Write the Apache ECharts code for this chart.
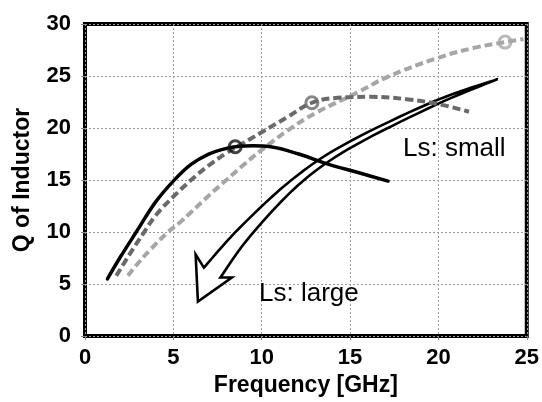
<!DOCTYPE html>
<html>
<head>
<meta charset="utf-8">
<script src="https://cdn.jsdelivr.net/npm/echarts@6/dist/echarts.min.js"></script>
<style>
  html, body { margin: 0; padding: 0; background: #fff; }
  #chart { width: 542px; height: 402px; }
</style>
</head>
<body>
<div id="chart"></div>
<script>
// Q factor vs. frequency for three inductor sizes, [GHz, Q]
const qSmallL = [
  [1.27, 5.5], [2, 7.6], [2.9, 10.0], [4, 12.9], [5, 14.9], [6, 16.5], [7, 17.5],
  [8, 18.05], [8.5, 18.2], [9.5, 18.3], [10.5, 18.2], [12.1, 17.5], [13.8, 16.5],
  [15.5, 15.7], [17.15, 14.9]
];
const qMidL = [
  [1.77, 5.8], [2.5, 7.8], [3.35, 10.0], [4, 11.6], [5, 13.4], [6, 15.0], [7, 16.4],
  [8, 17.6], [8.5, 18.1], [10, 19.6], [11.5, 21.1], [12.84, 22.43], [14.3, 22.9],
  [16.2, 23.0], [18.3, 22.75], [20, 22.3], [21.73, 21.57]
];
const qLargeL = [
  [2.43, 5.8], [3, 7.0], [3.75, 8.4], [4.7, 10.0], [5.35, 10.9], [6, 11.9], [7, 13.5],
  [8, 15.0], [9, 16.5], [10, 17.9], [11.5, 19.8], [13, 21.4], [15.4, 23.4],
  [17.1, 24.9], [19.9, 26.7], [22, 27.7], [23.77, 28.26], [24.81, 28.56]
];
// Peak-Q markers on each curve
const peakSmall = [[8.5, 18.2]];
const peakMid = [[12.84, 22.43]];
const peakLarge = [[23.77, 28.26]];

// Hollow trend arrow (small Ls -> large Ls), [GHz, Q]
// upper edge runs tail -> head, lower edge runs head -> tail
const arrowUpperEdge = [
  [23.36, 24.70], [19.76, 22.57], [14.77, 18.51], [11.72, 15.05], [8.73, 10.37], [6.73, 6.58]
];
const arrowHead = [[6.26, 7.86], [6.39, 3.31], [8.31, 5.63]];
const arrowLowerEdge = [
  [7.66, 5.63], [9.30, 9.51], [12.01, 14.42], [14.94, 18.01], [19.85, 22.23], [23.36, 24.70]
];

const xTicks = [0, 5, 10, 15, 20, 25];
const yTicks = [0, 5, 10, 15, 20, 25, 30];
const xTitle = 'Frequency [GHz]';
const yTitle = 'Q of Inductor';
const noteSmall = 'Ls: small';
const noteLarge = 'Ls: large';

const FONT = "'Liberation Sans', Arial, sans-serif";
const chart = echarts.init(document.getElementById('chart'), null, { renderer: 'canvas' });

const gridLine = { show: true, lineStyle: { color: '#9a9a9a', width: 1, type: [2, 2] } };
const tickLabel = { color: '#000', fontFamily: FONT, fontWeight: 'bold', fontSize: 22 };

function dashed(color) {
  return { color: color, width: 4, type: [8, 4], cap: 'butt' };
}
function peak(data, color) {
  return {
    type: 'scatter', data: data, symbol: 'circle', symbolSize: 12, z: 5,
    itemStyle: { color: 'rgba(0,0,0,0)', borderColor: color, borderWidth: 3 },
    silent: true
  };
}

// Catmull-Rom resampling of a pixel polyline so the arrow edges bend smoothly
function smoothEdge(pts, steps) {
  const out = [];
  const n = pts.length;
  for (let i = 0; i < n - 1; i++) {
    const p0 = pts[Math.max(i - 1, 0)], p1 = pts[i], p2 = pts[i + 1], p3 = pts[Math.min(i + 2, n - 1)];
    for (let s = 0; s < steps; s++) {
      const t = s / steps, t2 = t * t, t3 = t2 * t;
      const pt = [0, 1].map(function (k) {
        return 0.5 * ((2 * p1[k]) + (-p0[k] + p2[k]) * t +
          (2 * p0[k] - 5 * p1[k] + 4 * p2[k] - p3[k]) * t2 +
          (-p0[k] + 3 * p1[k] - 3 * p2[k] + p3[k]) * t3);
      });
      out.push(pt);
    }
  }
  out.push(pts[n - 1]);
  return out;
}

chart.setOption({
  animation: false,
  backgroundColor: '#fff',
  grid: {
    left: 85, top: 24, right: 11, bottom: 65,
    show: true, borderColor: '#000', borderWidth: 4, backgroundColor: '#fff'
  },
  xAxis: {
    type: 'value', min: xTicks[0], max: xTicks[xTicks.length - 1], interval: 5,
    axisLine: { show: false },
    axisTick: { show: true, length: 4, lineStyle: { color: '#888' } },
    axisLabel: Object.assign({ margin: 11 }, tickLabel),
    splitLine: gridLine,
    name: xTitle, nameLocation: 'middle', nameGap: 36,
    nameTextStyle: { color: '#000', fontFamily: FONT, fontWeight: 'bold', fontSize: 23 }
  },
  yAxis: {
    type: 'value', min: yTicks[0], max: yTicks[yTicks.length - 1], interval: 5,
    axisLine: { show: false },
    axisTick: { show: true, length: 4, lineStyle: { color: '#888' } },
    axisLabel: Object.assign({ margin: 14 }, tickLabel),
    splitLine: gridLine,
    name: yTitle, nameLocation: 'middle', nameGap: 51,
    nameTextStyle: { color: '#000', fontFamily: FONT, fontWeight: 'bold', fontSize: 23 }
  },
  series: [
    {
      type: 'custom', silent: true, z: 2,
      data: [arrowUpperEdge[0]],
      renderItem: function (params, api) {
        const toPx = function (p) { return api.coord(p); };
        const upper = smoothEdge(arrowUpperEdge.map(toPx), 10);
        const head = arrowHead.map(toPx);
        const lower = smoothEdge(arrowLowerEdge.map(toPx), 10);
        return {
          type: 'polygon',
          shape: { points: upper.concat(head, lower) },
          style: { fill: '#fff', stroke: '#000', lineWidth: 2.6, lineJoin: 'miter', miterLimit: 12 }
        };
      }
    },
    {
      type: 'line', data: qLargeL, smooth: 0.4, showSymbol: false, z: 3,
      lineStyle: dashed('#a6a6a6')
    },
    {
      type: 'line', data: qMidL, smooth: 0.4, showSymbol: false, z: 3,
      lineStyle: dashed('#696969')
    },
    {
      type: 'line', data: qSmallL, smooth: 0.4, showSymbol: false, z: 4,
      lineStyle: { color: '#000', width: 3.5, cap: 'round' }
    },
    peak(peakLarge, '#a6a6a6'),
    peak(peakMid, '#696969'),
    peak(peakSmall, '#111')
  ],
  graphic: [
    {
      type: 'text', left: 403, top: 136, z: 10,
      style: { text: noteSmall, fill: '#000', fontFamily: FONT, fontSize: 26 }
    },
    {
      type: 'text', left: 259, top: 281, z: 10,
      style: { text: noteLarge, fill: '#000', fontFamily: FONT, fontSize: 26 }
    }
  ]
});
</script>
</body>
</html>
